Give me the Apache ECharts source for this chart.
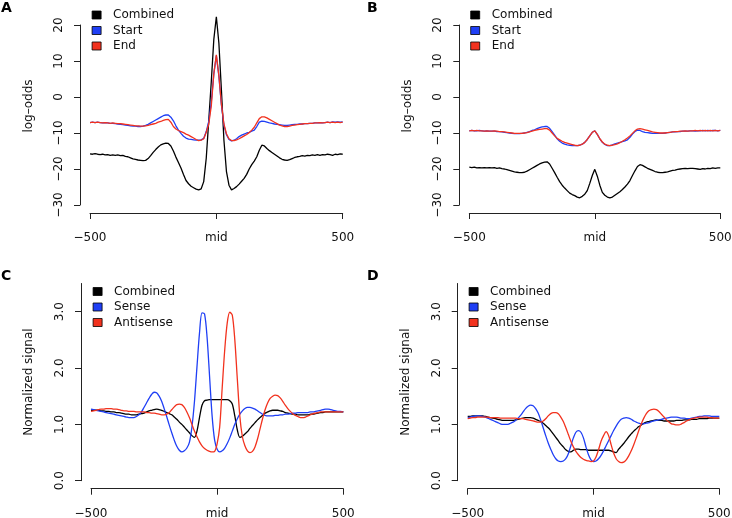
<!DOCTYPE html>
<html><head><meta charset="utf-8">
<script src="https://cdn.jsdelivr.net/npm/echarts@6/dist/echarts.min.js"></script>
<style>html,body{margin:0;padding:0;background:#fff}#c{width:732px;height:518px}</style>
</head><body><div id="c"></div>
<script>
// positions relative to the midpoint
const positions = [-500,-490,-480,-470,-460,-450,-440,-430,-420,-410,-400,-390,-380,-370,-360,-350,-340,-330,-320,-310,-300,-290,-280,-270,-260,-250,-240,-230,-220,-210,-200,-190,-180,-170,-160,-150,-140,-130,-120,-110,-100,-90,-80,-70,-60,-50,-40,-30,-20,-10,0,10,20,30,40,50,60,70,80,90,100,110,120,130,140,150,160,170,180,190,200,210,220,230,240,250,260,270,280,290,300,310,320,330,340,350,360,370,380,390,400,410,420,430,440,450,460,470,480,490,500];

// Panel A (log-odds)
const aCombined = [-15.8,-15.9,-15.7,-15.9,-16.0,-15.9,-16.1,-16.0,-16.2,-16.1,-16.2,-16.1,-16.3,-16.2,-16.5,-16.6,-16.9,-17.2,-17.3,-17.5,-17.6,-17.7,-17.6,-17.1,-16.3,-15.4,-14.6,-13.9,-13.3,-13.0,-12.8,-12.9,-13.6,-15.0,-16.7,-18.2,-19.7,-21.5,-23.2,-24.1,-24.8,-25.2,-25.6,-25.8,-25.5,-23.5,-17.0,-6.5,4.3,16.0,22.3,15.0,2.0,-12.0,-20.7,-24.5,-25.8,-25.4,-24.9,-24.2,-23.4,-22.6,-21.5,-20.0,-18.8,-17.8,-16.6,-14.8,-13.4,-13.6,-14.3,-14.9,-15.4,-15.9,-16.4,-16.9,-17.3,-17.5,-17.6,-17.4,-17.1,-16.8,-16.6,-16.5,-16.3,-16.4,-16.2,-16.3,-16.1,-16.2,-16.0,-16.2,-16.0,-16.1,-15.9,-16.0,-16.2,-15.9,-16.0,-15.8,-15.9];
const aStart = [-7.1,-7.0,-7.1,-7.0,-7.1,-7.2,-7.1,-7.2,-7.3,-7.3,-7.4,-7.5,-7.6,-7.7,-7.8,-7.9,-8.0,-8.1,-8.1,-8.2,-8.2,-8.1,-7.9,-7.6,-7.2,-6.8,-6.4,-6.0,-5.6,-5.2,-5.0,-5.0,-5.6,-6.6,-8.0,-9.2,-10.1,-10.9,-11.4,-11.7,-11.8,-11.9,-12.0,-12.0,-11.9,-11.5,-9.6,-6.8,-1.4,6.4,11.5,5.8,-2.2,-7.8,-10.5,-11.8,-12.2,-12.0,-11.6,-11.0,-10.6,-10.3,-10.0,-9.8,-9.5,-9.2,-8.2,-7.0,-6.7,-6.8,-7.0,-7.2,-7.3,-7.5,-7.6,-7.7,-7.8,-7.9,-7.9,-7.8,-7.7,-7.6,-7.6,-7.5,-7.5,-7.4,-7.4,-7.3,-7.3,-7.2,-7.2,-7.1,-7.2,-7.1,-7.0,-7.1,-6.9,-7.0,-6.9,-7.0,-6.9];
const aEnd = [-7.1,-7.0,-7.1,-7.0,-7.1,-7.2,-7.1,-7.2,-7.3,-7.2,-7.3,-7.4,-7.4,-7.5,-7.6,-7.7,-7.8,-7.9,-8.0,-8.0,-8.1,-8.1,-8.0,-7.9,-7.7,-7.5,-7.3,-7.0,-6.8,-6.5,-6.3,-6.2,-7.0,-8.2,-8.9,-9.3,-9.6,-9.9,-10.3,-10.6,-11.0,-11.4,-11.8,-12.1,-12.0,-11.6,-9.8,-7.5,-2.5,6.5,11.7,6.0,-2.0,-7.5,-10.2,-11.6,-12.1,-12.1,-11.9,-11.6,-11.2,-10.8,-10.4,-9.9,-9.2,-8.4,-7.2,-6.0,-5.5,-5.5,-5.8,-6.2,-6.6,-7.0,-7.4,-7.8,-8.0,-8.2,-8.2,-8.1,-7.9,-7.8,-7.7,-7.6,-7.5,-7.4,-7.4,-7.3,-7.3,-7.2,-7.2,-7.1,-7.2,-7.1,-7.0,-7.1,-7.0,-7.1,-7.0,-7.1,-7.0];

// Panel B (log-odds)
const bCombined = [-19.5,-19.6,-19.5,-19.7,-19.6,-19.7,-19.6,-19.7,-19.6,-19.7,-19.6,-19.8,-19.7,-19.9,-20.0,-20.2,-20.4,-20.6,-20.8,-20.9,-21.0,-21.0,-20.9,-20.6,-20.2,-19.8,-19.4,-19.0,-18.6,-18.3,-18.1,-18.0,-18.6,-19.8,-21.0,-22.3,-23.5,-24.5,-25.3,-26.0,-26.7,-27.1,-27.4,-27.8,-28.0,-27.6,-27.0,-26.0,-24.0,-21.8,-20.1,-22.0,-24.5,-26.5,-27.3,-27.8,-28.0,-27.8,-27.3,-26.8,-26.3,-25.7,-25.0,-24.2,-23.2,-21.8,-20.5,-19.3,-18.8,-19.0,-19.4,-19.8,-20.1,-20.4,-20.7,-20.9,-21.0,-21.0,-20.9,-20.8,-20.6,-20.4,-20.3,-20.1,-20.0,-19.9,-19.8,-19.9,-19.8,-19.8,-19.9,-20.0,-20.1,-19.9,-20.0,-19.8,-19.9,-19.7,-19.8,-19.7,-19.7];
const bStart = [-9.4,-9.3,-9.4,-9.4,-9.3,-9.4,-9.5,-9.4,-9.5,-9.5,-9.5,-9.6,-9.6,-9.7,-9.8,-9.9,-10.0,-10.1,-10.2,-10.2,-10.2,-10.1,-10.0,-9.8,-9.6,-9.3,-9.1,-8.8,-8.5,-8.3,-8.2,-8.2,-8.7,-9.6,-10.6,-11.6,-12.3,-12.8,-13.1,-13.3,-13.4,-13.5,-13.5,-13.5,-13.4,-13.1,-12.6,-11.8,-10.8,-9.8,-9.4,-10.4,-11.6,-12.6,-13.2,-13.5,-13.5,-13.3,-13.0,-12.8,-12.6,-12.4,-12.2,-11.9,-11.2,-10.3,-9.6,-9.2,-9.3,-9.6,-9.8,-9.9,-10.0,-10.1,-10.1,-10.1,-10.1,-10.1,-10.0,-9.9,-9.8,-9.7,-9.7,-9.6,-9.6,-9.5,-9.5,-9.5,-9.4,-9.4,-9.5,-9.4,-9.4,-9.3,-9.4,-9.3,-9.4,-9.3,-9.3,-9.4,-9.3];
const bEnd = [-9.4,-9.3,-9.4,-9.3,-9.4,-9.4,-9.5,-9.4,-9.5,-9.5,-9.4,-9.5,-9.6,-9.6,-9.7,-9.8,-9.9,-10.0,-10.1,-10.1,-10.1,-10.1,-10.0,-9.9,-9.7,-9.5,-9.3,-9.1,-9.0,-8.9,-8.8,-8.8,-9.2,-10.0,-10.8,-11.5,-11.9,-12.3,-12.6,-12.8,-13.0,-13.2,-13.4,-13.5,-13.4,-13.1,-12.6,-11.8,-10.8,-9.8,-9.4,-10.4,-11.6,-12.5,-13.1,-13.4,-13.5,-13.4,-13.2,-13.0,-12.7,-12.3,-11.9,-11.4,-10.8,-10.1,-9.4,-8.9,-8.8,-8.9,-9.1,-9.3,-9.5,-9.7,-9.8,-9.9,-10.0,-10.0,-10.0,-9.9,-9.8,-9.7,-9.6,-9.6,-9.5,-9.5,-9.4,-9.5,-9.4,-9.4,-9.3,-9.4,-9.3,-9.4,-9.3,-9.4,-9.3,-9.4,-9.3,-9.4,-9.3];

// Panel C (normalized signal)
const cCombined = [1.25,1.25,1.25,1.25,1.24,1.24,1.23,1.23,1.22,1.22,1.21,1.21,1.20,1.19,1.18,1.18,1.17,1.17,1.17,1.18,1.19,1.20,1.22,1.24,1.25,1.26,1.27,1.26,1.25,1.23,1.21,1.19,1.17,1.13,1.09,1.04,1.00,0.95,0.90,0.85,0.80,0.77,0.88,1.12,1.34,1.42,1.43,1.44,1.44,1.44,1.44,1.44,1.44,1.44,1.44,1.42,1.36,1.15,0.90,0.77,0.79,0.83,0.87,0.93,0.98,1.03,1.08,1.12,1.16,1.20,1.22,1.24,1.25,1.25,1.25,1.24,1.23,1.21,1.20,1.19,1.18,1.18,1.17,1.17,1.17,1.17,1.17,1.18,1.18,1.19,1.20,1.21,1.21,1.22,1.22,1.22,1.22,1.22,1.22,1.22,1.22];
const cSense = [1.27,1.26,1.25,1.24,1.23,1.22,1.21,1.20,1.19,1.18,1.17,1.16,1.15,1.14,1.13,1.12,1.12,1.12,1.14,1.17,1.22,1.30,1.38,1.46,1.53,1.57,1.56,1.50,1.41,1.28,1.14,0.99,0.85,0.72,0.61,0.54,0.51,0.53,0.58,0.68,0.95,1.40,2.02,2.62,2.98,2.96,2.55,1.85,1.15,0.72,0.56,0.51,0.53,0.58,0.66,0.76,0.88,1.00,1.10,1.18,1.24,1.28,1.30,1.30,1.29,1.27,1.24,1.21,1.18,1.16,1.15,1.15,1.15,1.16,1.16,1.17,1.17,1.18,1.18,1.19,1.20,1.20,1.21,1.21,1.21,1.21,1.21,1.22,1.22,1.23,1.24,1.25,1.26,1.27,1.27,1.26,1.25,1.24,1.23,1.23,1.22];
const cAntisense = [1.23,1.24,1.25,1.26,1.27,1.27,1.28,1.28,1.28,1.27,1.27,1.26,1.25,1.24,1.24,1.23,1.23,1.23,1.22,1.22,1.22,1.22,1.21,1.21,1.20,1.20,1.19,1.18,1.17,1.17,1.18,1.21,1.26,1.31,1.35,1.36,1.35,1.30,1.22,1.12,1.00,0.88,0.78,0.69,0.62,0.57,0.54,0.52,0.51,0.52,0.66,0.95,1.65,2.32,2.80,2.99,2.94,2.50,1.80,1.14,0.78,0.62,0.53,0.50,0.52,0.60,0.74,0.92,1.10,1.26,1.38,1.46,1.50,1.52,1.51,1.47,1.41,1.34,1.28,1.23,1.19,1.16,1.14,1.12,1.12,1.13,1.15,1.17,1.19,1.20,1.21,1.22,1.22,1.22,1.22,1.22,1.22,1.22,1.22,1.22,1.22];

// Panel D (normalized signal)
const dCombined = [1.14,1.14,1.15,1.15,1.15,1.15,1.15,1.14,1.13,1.12,1.11,1.10,1.09,1.08,1.07,1.07,1.07,1.07,1.07,1.08,1.09,1.10,1.11,1.12,1.12,1.12,1.11,1.09,1.07,1.05,1.02,0.98,0.94,0.89,0.83,0.77,0.71,0.65,0.60,0.55,0.52,0.51,0.54,0.56,0.56,0.55,0.55,0.55,0.54,0.54,0.54,0.54,0.54,0.54,0.54,0.54,0.54,0.53,0.51,0.50,0.56,0.61,0.66,0.72,0.78,0.83,0.88,0.92,0.96,0.99,1.02,1.04,1.05,1.06,1.07,1.08,1.07,1.07,1.06,1.06,1.06,1.06,1.06,1.07,1.07,1.07,1.08,1.08,1.08,1.09,1.09,1.09,1.10,1.10,1.10,1.10,1.11,1.11,1.11,1.11,1.11];
const dSense = [1.12,1.13,1.14,1.15,1.15,1.15,1.14,1.13,1.11,1.09,1.07,1.05,1.03,1.01,1.00,1.00,1.00,1.02,1.04,1.07,1.11,1.16,1.22,1.28,1.32,1.34,1.33,1.28,1.20,1.08,0.94,0.80,0.67,0.56,0.46,0.39,0.35,0.34,0.35,0.39,0.48,0.62,0.76,0.86,0.89,0.86,0.76,0.60,0.46,0.37,0.34,0.35,0.39,0.45,0.53,0.62,0.71,0.80,0.89,0.97,1.04,1.09,1.11,1.12,1.11,1.09,1.06,1.04,1.02,1.01,1.01,1.02,1.03,1.05,1.06,1.07,1.08,1.09,1.10,1.11,1.12,1.13,1.13,1.13,1.12,1.11,1.11,1.10,1.10,1.11,1.12,1.13,1.14,1.14,1.15,1.15,1.15,1.14,1.14,1.14,1.14];
const dAntisense = [1.10,1.11,1.12,1.12,1.13,1.13,1.13,1.13,1.13,1.12,1.12,1.12,1.12,1.11,1.11,1.11,1.11,1.11,1.11,1.11,1.10,1.10,1.10,1.09,1.08,1.07,1.06,1.05,1.04,1.04,1.06,1.10,1.15,1.19,1.21,1.21,1.19,1.13,1.05,0.94,0.82,0.70,0.60,0.52,0.46,0.41,0.38,0.36,0.35,0.34,0.35,0.42,0.55,0.70,0.80,0.87,0.80,0.64,0.49,0.39,0.34,0.32,0.33,0.37,0.44,0.53,0.64,0.76,0.89,1.01,1.11,1.19,1.24,1.26,1.27,1.26,1.23,1.18,1.13,1.08,1.04,1.01,1.00,0.99,0.99,1.01,1.03,1.06,1.08,1.10,1.11,1.12,1.13,1.13,1.13,1.13,1.12,1.12,1.11,1.11,1.11];

const logOddsTicks = [-30,-20,-10,0,10,20];
const signalTicks = [0,1,2,3];
const positionTicks = [-500,0,500];
const midLabel = 'mid';
const panelLetters = ['A','B','C','D'];
const topNames = ['Combined','Start','End'];
const bottomNames = ['Combined','Sense','Antisense'];

const BLACK = '#000000', BLUE = '#1f3ff5', RED = '#f2321e';
const FONT = 'DejaVu Sans';
const AXIS = '#222';

const minus = v => (v < 0 ? '\u2212' + (-v) : String(v));

// grid geometry for the four panels
const grids = [
  {left: 90,    top: 25,    width: 252.7, height: 180},
  {left: 469.3, top: 25,    width: 251,   height: 180},
  {left: 91,    top: 283.5, width: 252.3, height: 197.2},
  {left: 467.7, top: 283.5, width: 251.6, height: 197.2}
];

function xAxisFor(i) {
  return {
    type: 'value', gridIndex: i, min: -500, max: 500, interval: 500,
    position: 'bottom', offset: 8,
    axisLine: {show: true, onZero: false, lineStyle: {color: AXIS, width: 1}},
    axisTick: {show: true, length: 6, lineStyle: {color: AXIS}},
    axisLabel: {
      color: '#111', fontFamily: FONT, fontSize: 12, margin: 19,
      customValues: positionTicks,
      formatter: v => (v === 0 ? midLabel : minus(v))
    },
    splitLine: {show: false}
  };
}
function yAxisFor(i, top) {
  const ax = {
    type: 'value', gridIndex: i, position: 'left', offset: 10,
    axisLine: {show: true, onZero: false, lineStyle: {color: AXIS, width: 1}},
    axisTick: {show: true, length: 6, lineStyle: {color: AXIS}},
    splitLine: {show: false},
    nameLocation: 'middle',
    nameRotate: 90,
    nameTextStyle: {color: '#111', fontFamily: FONT, fontSize: 12}
  };
  if (top) {
    ax.min = -30; ax.max = 20; ax.interval = 10;
    ax.name = 'log\u2013odds';
    ax.nameGap = 45;
    ax.nameTextStyle.padding = [0, 0, 0, 18];
    ax.axisTick.customValues = logOddsTicks;
    ax.axisLabel = {color: '#111', fontFamily: FONT, fontSize: 12, rotate: 90, margin: 15,
      customValues: logOddsTicks, formatter: v => minus(v)};
  } else {
    ax.min = 0; ax.max = 3.5;
    ax.name = 'Normalized signal';
    ax.nameGap = 46;
    ax.axisTick.customValues = signalTicks;
    ax.axisLabel = {color: '#111', fontFamily: FONT, fontSize: 12, rotate: 90, margin: 15,
      customValues: signalTicks, formatter: v => v.toFixed(1)};
  }
  return ax;
}
function line(name, vals, color, gi, smooth) {
  return {
    type: 'line', name, xAxisIndex: gi, yAxisIndex: gi,
    data: positions.map((p, k) => [p, vals[k]]),
    showSymbol: false, symbol: 'none', smooth: smooth, clip: false,
    lineStyle: {color, width: 1.3}, itemStyle: {color},
    emphasis: {disabled: true}, animation: false
  };
}
function legendFor(names, left, top) {
  return {
    data: names, orient: 'vertical', left, top, padding: 0,
    icon: 'rect', itemWidth: 9, itemHeight: 8, itemGap: 1.5,
    itemStyle: {borderColor: '#000', borderWidth: 0.8},
    textStyle: {color: '#111', fontFamily: FONT, fontSize: 12, lineHeight: 14, padding: [0, 0, 0, 7]},
    selectedMode: false
  };
}

const titlePos = [[1, 1], [367, 1], [1, 269], [367, 269]];

const chart = echarts.init(document.getElementById('c'), null, {renderer: 'canvas'});
chart.setOption({
  animation: false,
  backgroundColor: '#fff',
  textStyle: {fontFamily: FONT},
  title: panelLetters.map((t, i) => ({
    text: t, left: titlePos[i][0], top: titlePos[i][1], padding: 0,
    textStyle: {fontFamily: FONT, fontSize: 14, fontWeight: 'bold', color: '#000'}
  })),
  grid: grids.map(g => Object.assign({outerBoundsMode: 'none', containLabel: false}, g)),
  xAxis: [0, 1, 2, 3].map(xAxisFor),
  yAxis: [yAxisFor(0, true), yAxisFor(1, true), yAxisFor(2, false), yAxisFor(3, false)],
  legend: [
    legendFor(topNames, 91.7, 8),
    legendFor(topNames, 470.3, 8),
    legendFor(bottomNames, 92.7, 284.5),
    legendFor(bottomNames, 468.7, 284.5)
  ],
  series: [
    line('Combined', aCombined, BLACK, 0, false),
    line('Start', aStart, BLUE, 0, false),
    line('End', aEnd, RED, 0, false),
    line('Combined', bCombined, BLACK, 1, false),
    line('Start', bStart, BLUE, 1, false),
    line('End', bEnd, RED, 1, false),
    line('Combined', cCombined, BLACK, 2, 0.3),
    line('Sense', cSense, BLUE, 2, 0.3),
    line('Antisense', cAntisense, RED, 2, 0.3),
    line('Combined', dCombined, BLACK, 3, 0.3),
    line('Sense', dSense, BLUE, 3, 0.3),
    line('Antisense', dAntisense, RED, 3, 0.3)
  ]
});
</script>
</body></html>
